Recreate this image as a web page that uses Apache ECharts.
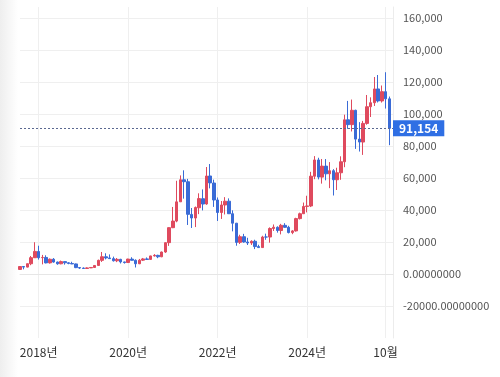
<!DOCTYPE html>
<html>
<head>
<meta charset="utf-8">
<script src="https://cdn.jsdelivr.net/npm/echarts@6/dist/echarts.min.js"></script>
<style>
html,body{margin:0;padding:0;background:#fff;}
#chart{width:500px;height:377px;}
</style>
</head>
<body>
<div id="chart"></div>
<script>
// 월봉 시작 (2017-08) ~ 2025-11
var startYear = 2017, startMonth = 8;
// [시가, 종가, 저가, 고가]
var ohlc = [
  [2871, 4703, 2603, 4736], [4701, 4339, 2946, 4975], [4341, 6468, 4138, 6470], [6440, 10233, 5519, 11300], [10198, 14156, 10834, 19891],
  [14112, 10221, 9035, 17712], [10237, 10397, 6048, 11958], [10385, 6973, 6675, 11711], [6973, 9240, 6526, 9745], [9251, 7494, 7090, 9964], [7500, 6404, 5826, 7754],
  [6411, 7780, 6111, 8424], [7769, 7037, 5880, 7769], [7044, 6625, 6123, 7388], [6619, 6318, 6205, 7680], [6318, 4017, 3696, 6553], [4024, 3743, 3192, 4309],
  [3746, 3457, 3400, 4109], [3460, 3854, 3391, 4210], [3853, 4105, 3734, 4296], [4105, 5350, 4096, 5642], [5350, 8574, 5332, 9008], [8573, 10817, 7564, 13796],
  [10796, 10085, 9163, 12979], [10077, 9630, 9421, 12273], [9630, 8293, 7830, 10898], [8299, 9199, 7446, 10021], [9193, 7569, 6617, 9505], [7571, 7193, 6540, 7743],
  [7194, 9350, 6914, 9553], [9346, 8599, 8471, 10500], [8599, 6438, 4106, 9168], [6437, 8658, 6202, 9440], [8672, 9461, 8130, 10067], [9463, 9137, 8975, 10380],
  [9145, 11323, 8977, 11435], [11322, 11680, 10953, 12468], [11679, 10784, 9913, 12067], [10795, 13781, 10546, 14029], [13780, 19625, 13243, 19749], [19633, 29001, 17619, 29244],
  [28995, 33114, 28722, 41946], [33115, 45137, 32384, 58330], [45160, 58918, 45115, 61683], [58926, 57750, 47159, 64863], [57714, 37332, 30681, 59519], [37293, 35040, 28805, 41295],
  [35035, 41626, 29360, 42236], [41460, 47166, 37458, 50482], [47099, 43790, 39787, 52920], [43816, 61318, 43321, 66930], [61320, 57005, 53569, 68789], [56907, 46306, 42000, 59041],
  [46311, 38483, 33184, 47882], [38481, 43193, 34460, 45661], [43194, 45538, 37260, 48086], [45554, 37714, 37697, 47313], [37713, 31792, 26700, 39845], [31792, 19784, 17708, 31957],
  [19820, 23336, 18782, 24572], [23336, 20049, 19600, 25135], [20050, 19431, 18153, 22673], [19431, 20495, 18190, 21085], [20494, 17168, 15599, 21446], [17168, 16547, 16334, 18318],
  [16547, 23139, 16521, 23920], [23150, 23147, 21405, 25250], [23150, 28478, 19628, 29185], [28473, 29268, 26942, 31005], [29227, 27219, 25878, 29820], [27218, 30477, 24800, 31389],
  [30471, 29230, 28934, 31804], [29230, 25940, 25409, 30176], [25937, 26967, 24930, 27488], [26967, 34667, 26558, 35198], [34657, 37712, 34110, 38415], [37718, 42265, 37629, 44705],
  [42280, 42582, 38555, 48969], [42569, 61198, 41884, 63913], [61168, 71333, 59323, 73750], [71334, 60636, 59191, 72715], [60609, 67491, 56552, 71946], [67489, 62678, 58601, 71907],
  [62673, 64619, 53717, 70000], [64619, 58970, 49121, 65593], [58969, 63329, 52550, 66480], [63335, 70215, 58946, 73620], [70216, 96449, 66803, 99655], [96461, 93429, 90791, 108268],
  [93425, 102405, 89164, 109114], [102402, 84373, 78258, 102755], [84373, 82548, 76606, 95000], [82551, 94207, 74508, 95770], [94207, 104638, 93400, 111970], [104638, 107135, 98200, 110500],
  [107135, 115758, 105100, 123218], [115758, 108236, 107300, 124474], [108236, 114048, 107255, 117900], [114048, 109556, 103500, 126200], [109556, 91154, 80600, 111000]
];
var lastPrice = 91154;
var lastPriceLabel = '91,154';

var xLabelMonths = ['2018-01', '2020-01', '2022-01', '2024-01', '2025-10'];
var xLabelTexts = ['2018년', '2020년', '2022년', '2024년', '10월'];

var yTickValues = [-20000, 0, 20000, 40000, 60000, 80000, 100000, 120000, 140000, 160000];
var yTickLabels = ['-20000.00000000', '0.00000000', '20,000', '40,000', '60,000', '80,000', '100,000', '120,000', '140,000', '160,000'];

// 카테고리(월) - 오른쪽 끝 여백용으로 한 칸 더
var months = [];
for (var i = 0; i <= ohlc.length; i++) {
  var m = startMonth - 1 + i;
  var y = startYear + Math.floor(m / 12);
  var mm = (m % 12) + 1;
  months.push(y + '-' + (mm < 10 ? '0' + mm : mm));
}

var red = '#df4a5e', blue = '#3a6bd6';

function showMonth(index, value) {
  return xLabelMonths.indexOf(value) >= 0;
}

var myChart = echarts.init(document.getElementById('chart'), null, {renderer: 'canvas'});
var option = {
  animation: false,
  backgroundColor: '#fff',
  graphic: [{
    type: 'rect',
    left: 0, top: 0, z: -10,
    shape: {width: 18, height: 377},
    style: {
      fill: new echarts.graphic.LinearGradient(0, 0, 1, 0, [
        {offset: 0, color: '#eeeeee'}, {offset: 1, color: '#ffffff'}
      ])
    }
  }],
  grid: {left: 20, right: 107, top: 7, bottom: 39},
  xAxis: {
    type: 'category',
    data: months,
    boundaryGap: false,
    axisLine: {show: true, lineStyle: {color: '#e6e6e6'}},
    axisTick: {show: false},
    axisLabel: {
      interval: showMonth,
      margin: 8,
      color: '#333',
      fontSize: 12,
      fontFamily: 'Noto Sans CJK KR',
      formatter: function (v) {
        var k = xLabelMonths.indexOf(v);
        return k >= 0 ? xLabelTexts[k] : '';
      }
    },
    splitLine: {show: true, interval: showMonth, lineStyle: {color: '#efefef'}}
  },
  yAxis: {
    type: 'value',
    position: 'right',
    min: -40000,
    max: 167000,
    interval: 20000,
    axisLine: {show: true, lineStyle: {color: '#ececec'}},
    axisTick: {show: false},
    axisLabel: {
      margin: 10,
      color: '#555',
      fontSize: 11,
      fontFamily: 'Noto Sans CJK KR',
      formatter: function (v) {
        var k = yTickValues.indexOf(v);
        return k >= 0 ? yTickLabels[k] : '';
      }
    },
    splitLine: {show: true, showMinLine: false, showMaxLine: false, lineStyle: {color: '#efefef'}}
  },
  series: [{
    type: 'candlestick',
    data: ohlc,
    clip: false,
    barWidth: 3,
    itemStyle: {
      color: red, color0: blue,
      borderColor: red, borderColor0: blue,
      borderWidth: 1
    },
    markLine: {
      silent: true,
      symbol: ['none', 'none'],
      data: [{yAxis: lastPrice}],
      lineStyle: {color: '#5a6890', type: [2, 2], width: 1},
      label: {
        show: true,
        position: 'end',
        distance: 0,
        formatter: lastPriceLabel,
        color: '#fff',
        fontWeight: 'bold',
        fontSize: 12,
        fontFamily: 'Noto Sans CJK KR',
        backgroundColor: '#2f6fe4',
        padding: [2, 6]
      }
    }
  }]
};
myChart.setOption(option);
window.addEventListener('resize', function () {
  myChart.resize();
});
</script>
</body>
</html>
